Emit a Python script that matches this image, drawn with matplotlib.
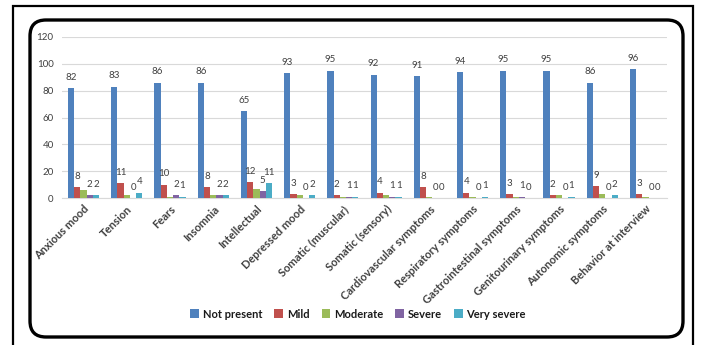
import matplotlib
matplotlib.use("Agg")
import matplotlib.pyplot as plt
import numpy as np
from matplotlib.patches import FancyBboxPatch, Rectangle
from matplotlib.transforms import IdentityTransform

plt.rcParams['font.family'] = ['Lato', 'DejaVu Sans']

categories = ["Anxious mood", "Tension", "Fears", "Insomnia", "Intellectual",
              "Depressed mood", "Somatic (muscular)", "Somatic (sensory)",
              "Cardiovascular symptoms", "Respiratory symptoms",
              "Gastrointestinal symptoms", "Genitourinary symptoms",
              "Autonomic symptoms", "Behavior at interview"]
not_present = [82, 83, 86, 86, 65, 93, 95, 92, 91, 94, 95, 95, 86, 96]
mild = [8, 11, 10, 8, 12, 3, 2, 4, 8, 4, 3, 2, 9, 3]
moderate = [6, 2, 1, 2, 7, 2, 1, 2, 1, 1, 1, 2, 3, 1]
severe = [2, 0, 2, 2, 5, 0, 1, 1, 0, 0, 1, 0, 0, 0]
very_severe = [2, 4, 1, 2, 11, 2, 1, 1, 0, 1, 0, 1, 2, 0]

series = [
    ("Not present", not_present, "#4F81BD", True),
    ("Mild", mild, "#C0504D", True),
    ("Moderate", moderate, "#9BBB59", False),
    ("Severe", severe, "#8064A2", True),
    ("Very severe", very_severe, "#4BACC6", True),
]

W, H = 702, 345
fig = plt.figure(figsize=(W / 100, H / 100), dpi=100)
ax = fig.add_axes([62 / W, (H - 198) / H, (667 - 62) / W, 161 / H])

x = np.arange(len(categories))
bw = 0.144
for i, (name, vals, color, labelled) in enumerate(series):
    pos = x + (i - 2) * bw
    ax.bar(pos, vals, width=bw, color=color, label=name, zorder=3)
    if labelled:
        for px, v in zip(pos, vals):
            ax.annotate(str(v), (px, v), xytext=(0, 4.5), textcoords="offset points",
                        ha="center", va="bottom", fontsize=7, color="#404040")

ax.set_xlim(-0.5, len(categories) - 0.5)
ax.set_ylim(0, 120)
ax.set_yticks(range(0, 121, 20))
ax.yaxis.grid(True, color="#D9D9D9", linewidth=0.8, zorder=0)
ax.set_axisbelow(True)
for s in ["top", "right", "left"]:
    ax.spines[s].set_visible(False)
ax.spines["bottom"].set_color("#D9D9D9")
ax.tick_params(axis="both", length=0, labelsize=7, labelcolor="#404040")
ax.tick_params(axis="y", pad=6)
ax.tick_params(axis="x", pad=4)
ax.set_xticks(x)
ax.set_xticklabels(categories, rotation=45, ha="right", rotation_mode="anchor",
                   fontsize=8, fontweight="bold", color="#404040")

leg = fig.legend(loc="center", bbox_to_anchor=(358 / W, (H - 314) / H), ncol=5,
                 frameon=False, handlelength=0.8, handleheight=0.8,
                 handletextpad=0.3, columnspacing=1.1,
                 prop={"size": 8, "weight": "bold"})
for t in leg.get_texts():
    t.set_color("#1a1a1a")

# decorative frames
ident = IdentityTransform()
fig.patches.append(Rectangle((13, -10), 680, H - 6 + 10, fill=False,
                             edgecolor="black", linewidth=1.6, transform=ident))
fig.patches.append(FancyBboxPatch((30, 8), 653, 317,
                                  boxstyle="round,pad=0,rounding_size=16",
                                  fill=False, edgecolor="black", linewidth=2.4,
                                  transform=ident))

fig.savefig("out.png", dpi=100)
